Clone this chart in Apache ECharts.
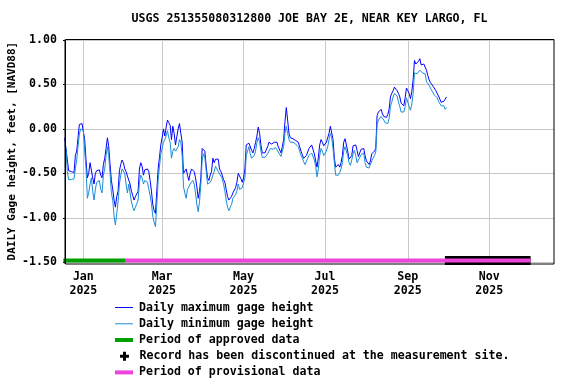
<!DOCTYPE html>
<html>
<head>
<meta charset="utf-8">
<script src="https://cdn.jsdelivr.net/npm/echarts@6/dist/echarts.min.js"></script>
<style>
html,body{margin:0;padding:0;background:#fff;}
#chart{width:576px;height:384px;}
</style>
</head>
<body>
<div id="chart"></div>
<script>
// ---- data ----
const titleText = 'USGS 251355080312800 JOE BAY 2E, NEAR KEY LARGO, FL';
const yAxisTitle = 'DAILY Gage height, feet, [NAVD88]';
const firstDay = '2024-12-18';
const maxHeight = [
 -0.10,-0.12,-0.35,-0.47,-0.47,-0.48,-0.47,-0.49,-0.30,-0.25,
 -0.10,0.05,0.03,0.06,0.07,-0.12,-0.35,-0.55,-0.50,-0.38,
 -0.40,-0.55,-0.62,-0.50,-0.47,-0.49,-0.46,-0.52,-0.55,-0.40,
 -0.33,-0.22,-0.10,-0.20,-0.40,-0.58,-0.68,-0.80,-0.88,-0.76,
 -0.70,-0.47,-0.40,-0.35,-0.38,-0.45,-0.48,-0.53,
 -0.55,-0.62,-0.70,-0.75,-0.80,-0.76,-0.74,-0.70,-0.45,-0.38,
 -0.42,-0.52,-0.46,-0.47,-0.45,-0.48,-0.58,-0.70,-0.85,-0.92,
 -0.95,-0.70,-0.45,-0.32,-0.18,-0.10,0.00,-0.08,0.02,0.10,
 0.07,0.04,-0.12,0.03,-0.05,-0.18,-0.20,0.00,0.06,-0.05,
 -0.15,-0.50,-0.48,-0.45,-0.52,-0.58,-0.50,-0.45,
 -0.43,-0.48,-0.55,-0.65,-0.78,-0.70,-0.55,-0.22,-0.20,-0.25,
 -0.42,-0.55,-0.58,-0.52,-0.48,-0.33,-0.38,-0.34,-0.36,-0.34,
 -0.45,-0.48,-0.52,-0.57,-0.60,-0.68,-0.76,-0.80,-0.78,-0.76,
 -0.72,-0.70,-0.66,-0.60,-0.50,-0.52,-0.56,-0.60,-0.55,-0.45,
 -0.18,-0.16,-0.16,-0.17,-0.24,-0.27,-0.22,-0.15,-0.08,0.02,
 -0.05,-0.18,-0.27,-0.28,-0.27,-0.25,-0.20,-0.15,-0.14,-0.17,
 -0.18,-0.15,-0.14,-0.15,-0.20,-0.22,-0.27,-0.20,-0.12,0.08,
 0.24,0.10,-0.05,-0.10,-0.12,-0.11,-0.12,-0.13,-0.11,-0.15,
 -0.20,-0.25,-0.29,-0.33,-0.35,-0.30,-0.26,-0.22,-0.23,-0.18,
 -0.20,-0.28,-0.36,-0.43,-0.32,-0.18,-0.12,-0.15,
 -0.19,-0.17,-0.15,-0.10,-0.05,0.03,0.01,-0.12,-0.33,-0.43,
 -0.42,-0.40,-0.43,-0.38,-0.30,-0.15,-0.11,-0.13,-0.25,-0.34,
 -0.35,-0.30,-0.19,-0.18,-0.18,-0.24,-0.31,-0.29,-0.23,-0.21,
 -0.22,-0.30,-0.36,-0.38,-0.40,-0.36,-0.28,-0.27,-0.25,-0.22,
 0.15,0.19,0.18,0.22,0.17,0.14,0.12,0.13,0.16,
 0.22,0.36,0.40,0.43,0.47,0.45,0.43,0.40,0.36,0.29,
 0.28,0.26,0.35,0.46,0.43,0.40,0.34,0.42,0.55,0.77,
 0.73,0.72,0.76,0.79,0.72,0.70,0.73,0.72,0.66,0.60,
 0.55,0.52,0.50,0.48,0.47,0.43,0.42,0.37,0.35,0.30,
 0.29,0.31,0.29,0.36
];
const minHeight = [
 -0.18,-0.22,-0.48,-0.57,-0.57,-0.57,-0.56,-0.56,-0.45,-0.35,
 -0.20,-0.06,0.00,0.01,-0.02,-0.25,-0.45,-0.78,-0.72,-0.62,
 -0.55,-0.70,-0.80,-0.68,-0.60,-0.58,-0.58,-0.68,-0.72,-0.52,
 -0.45,-0.30,-0.20,-0.30,-0.50,-0.72,-0.80,-0.98,-1.08,-0.95,
 -0.82,-0.62,-0.52,-0.45,-0.45,-0.50,-0.62,-0.72,
 -0.62,-0.72,-0.82,-0.88,-0.92,-0.88,-0.84,-0.80,-0.60,-0.52,
 -0.55,-0.62,-0.58,-0.58,-0.60,-0.62,-0.75,-0.84,-0.98,-1.05,
 -1.10,-0.85,-0.58,-0.42,-0.28,-0.22,-0.15,-0.12,-0.08,-0.02,
 -0.10,-0.15,-0.33,-0.25,-0.22,-0.25,-0.27,-0.20,-0.12,-0.15,
 -0.30,-0.65,-0.72,-0.78,-0.68,-0.66,-0.62,-0.60,
 -0.58,-0.62,-0.72,-0.85,-0.93,-0.82,-0.62,-0.35,-0.28,-0.32,
 -0.47,-0.62,-0.64,-0.60,-0.57,-0.52,-0.48,-0.42,-0.45,-0.48,
 -0.47,-0.53,-0.56,-0.62,-0.70,-0.80,-0.88,-0.92,-0.88,-0.85,
 -0.78,-0.76,-0.74,-0.70,-0.62,-0.68,-0.70,-0.66,-0.64,-0.55,
 -0.30,-0.25,-0.20,-0.28,-0.33,-0.34,-0.30,-0.25,-0.15,-0.10,
 -0.15,-0.25,-0.32,-0.33,-0.32,-0.31,-0.28,-0.25,-0.22,-0.24,
 -0.23,-0.22,-0.21,-0.20,-0.26,-0.28,-0.31,-0.25,-0.20,-0.05,
 0.03,-0.05,-0.12,-0.15,-0.16,-0.15,-0.16,-0.17,-0.18,-0.20,
 -0.25,-0.30,-0.33,-0.37,-0.40,-0.38,-0.33,-0.30,-0.28,-0.27,
 -0.26,-0.35,-0.42,-0.54,-0.45,-0.30,-0.22,-0.25,
 -0.30,-0.28,-0.25,-0.20,-0.12,-0.05,-0.10,-0.22,-0.38,-0.52,
 -0.54,-0.52,-0.49,-0.45,-0.38,-0.25,-0.20,-0.18,-0.30,-0.38,
 -0.41,-0.35,-0.28,-0.24,-0.30,-0.38,-0.35,-0.33,-0.29,-0.27,
 -0.27,-0.38,-0.43,-0.45,-0.44,-0.42,-0.36,-0.33,-0.30,-0.26,
 0.05,0.10,0.12,0.14,0.12,0.10,0.07,0.07,0.06,
 0.12,0.25,0.30,0.36,0.40,0.40,0.37,0.30,0.25,0.19,
 0.18,0.19,0.25,0.35,0.30,0.25,0.21,0.28,0.40,0.63,
 0.64,0.62,0.64,0.66,0.64,0.63,0.65,0.62,0.53,0.52,
 0.49,0.46,0.43,0.42,0.38,0.37,0.35,0.31,0.30,0.26,
 0.24,0.26,0.22,0.24
];
const approvedPeriod = ['2024-12-17T00:00', '2025-02-01T18:00'];
const provisionalPeriod = ['2025-02-01T18:00', '2025-12-02T00:00'];
const discontinuedPeriod = ['2025-09-28T19:00', '2025-12-02T00:00'];
const periodLevel = -1.48;
const xTickDates = ['2025-01-01','2025-03-01','2025-05-01','2025-07-01','2025-09-01','2025-11-01'];
const monthNames = ['Jan','Feb','Mar','Apr','May','Jun','Jul','Aug','Sep','Oct','Nov','Dec'];
const axisStart = '2024-12-18T06:00';
const axisEnd = '2025-12-19T12:00';
const yMin = -1.5, yMax = 1.0, yStep = 0.5;
const names = {
  max: 'Daily maximum gage height',
  min: 'Daily minimum gage height',
  approved: 'Period of approved data',
  disc: 'Record has been discontinued at the measurement site.',
  prov: 'Period of provisional data'
};
const colors = { max: '#0000ff', min: '#1a8cd8', approved: '#00a000', disc: '#000000', prov: '#ee44dd' };

// ---- build (x values are days since firstDay) ----
const toTime = s => new Date(s + (s.length === 10 ? 'T00:00:00Z' : ':00Z')).getTime();
const DAY = 86400000;
const t0 = toTime(firstDay);
const toDay = s => (toTime(s) - t0) / DAY;
const maxData = maxHeight.map((v, i) => [i, v]);
const minData = minHeight.map((v, i) => [i, v]);
const period = p => [[toDay(p[0]), periodLevel], [toDay(p[1]), periodLevel]];
const tickDays = xTickDates.map(toDay);

const FONT = 'DejaVu Sans Mono';
const txt = { fontFamily: FONT, fontWeight: 'bold', fontSize: 11.6, color: '#000' };

const chart = echarts.init(document.getElementById('chart'), null, { renderer: 'canvas' });
const legendBase = (key, left, top, icon, w, h) => ({
  data: [{ name: names[key], icon: icon, itemStyle: { color: colors[key], borderWidth: 0 } }],
  left: left, top: top, padding: 0,
  itemWidth: w, itemHeight: h, selectedMode: false,
  textStyle: Object.assign({ lineHeight: 16, padding: [0, 0, 0, 1] }, txt)
});
chart.setOption({
  animation: false,
  backgroundColor: '#fff',
  grid: { left: 65, right: 22, top: 40, bottom: 121.7, containLabel: false, outerBoundsMode: 'none' },
  xAxis: {
    type: 'value',
    min: toDay(axisStart), max: toDay(axisEnd),
    axisLine: { show: false },
    axisTick: { show: false, customValues: tickDays },
    axisLabel: Object.assign({
      customValues: tickDays, margin: 8, lineHeight: 14,
      formatter: v => { const d = new Date(t0 + v * DAY); return monthNames[d.getUTCMonth()] + '\n' + d.getUTCFullYear(); }
    }, txt),
    splitLine: { show: true, lineStyle: { color: '#c8c8c8', width: 1 } }
  },
  yAxis: {
    type: 'value', min: yMin, max: yMax, interval: yStep,
    name: yAxisTitle, nameLocation: 'middle', nameGap: 47, nameRotate: 90,
    nameMoveOverlap: false,
    nameTextStyle: Object.assign({}, txt, { fontSize: 11 }),
    axisLine: { show: false },
    axisTick: { show: true, length: 2, lineStyle: { color: '#000' } },
    axisLabel: Object.assign({ margin: 8, formatter: v => v.toFixed(2) }, txt),
    splitLine: { show: true, lineStyle: { color: '#c8c8c8', width: 1 } }
  },
  legend: [
    legendBase('max', 115, 299.5, 'rect', 18, 1),
    legendBase('min', 115, 315.8, 'rect', 18, 1),
    legendBase('approved', 115, 332, 'rect', 18, 4),
    legendBase('disc', 120, 348.2, 'path://M3,0h3v3h3v3h-3v3h-3v-3h-3v-3h3z', 18, 9),
    legendBase('prov', 115, 364.4, 'rect', 18, 4)
  ],
  graphic: [
    { type: 'text', x: 309.5, y: 19, z: 100,
      style: { text: titleText, font: 'bold 11.6px "DejaVu Sans Mono"', fill: '#000', align: 'center', verticalAlign: 'middle' } },
    { type: 'rect', z: 100, silent: true,
      shape: { x: 65.5, y: 39.5, width: 488.5, height: 224.5 },
      style: { fill: null, stroke: '#000', lineWidth: 1 } },
    { type: 'line', z: 100, silent: true,
      shape: { x1: 65, y1: 39.5, x2: 65, y2: 264 },
      style: { stroke: '#000', lineWidth: 1 } }
  ],
  series: [
    { name: names.max, type: 'line', data: maxData, showSymbol: false, symbol: 'none',
      color: colors.max, lineStyle: { width: 1, color: colors.max }, z: 3 },
    { name: names.min, type: 'line', data: minData, showSymbol: false, symbol: 'none',
      color: colors.min, lineStyle: { width: 1, color: colors.min }, z: 3 },
    { name: names.approved, type: 'line', data: period(approvedPeriod), symbol: 'none',
      color: colors.approved, lineStyle: { width: 4, color: colors.approved, cap: 'butt' }, z: 4 },
    { name: names.disc, type: 'line', data: period(discontinuedPeriod), symbol: 'none',
      color: colors.disc, lineStyle: { width: 9, color: colors.disc, cap: 'butt' }, z: 4, clip: false },
    { name: names.prov, type: 'line', data: period(provisionalPeriod), symbol: 'none',
      color: colors.prov, lineStyle: { width: 4, color: colors.prov, cap: 'butt' }, z: 5 }
  ]
});
</script>
</body>
</html>
